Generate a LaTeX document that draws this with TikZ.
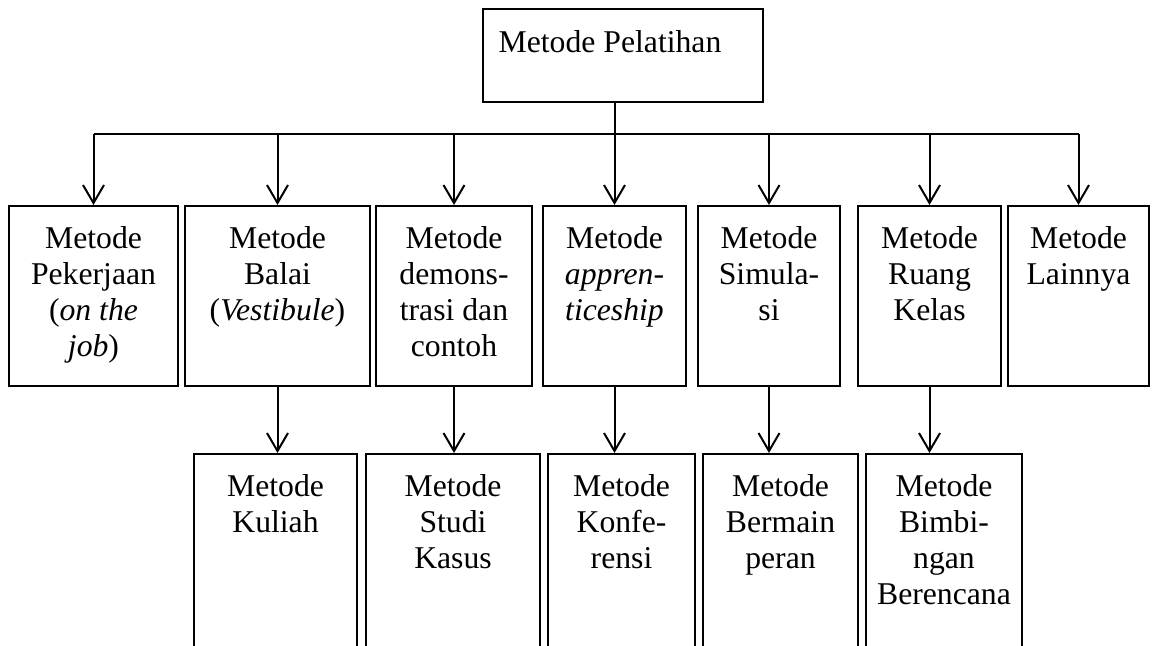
\documentclass[tikz,border=0pt]{standalone}
\usepackage{fontspec}
\setmainfont{Liberation Serif}
\usetikzlibrary{arrows.meta,fit}
\tikzset{
  box/.style={draw, line width=1pt, inner sep=0pt, fit={#1}},
  txt/.style={anchor=north, align=center, inner sep=0pt, font=\fontsize{15.85}{18}\selectfont},
  link/.style={line width=1pt},
  arr/.style={line width=1pt, -{Straight Barb[length=9pt,width=10.5pt,line width=1pt]}}
}
\begin{document}
\begin{tikzpicture}[x=0.5pt,y=-0.5pt]
\useasboundingbox (0,0) rectangle (1152,646);
\clip (0,0) rectangle (1152,646);
% top
\node[box={(483,9)(763,102)}] (top) {};
\node[txt] (ttop) at ([xshift=-6.5pt,yshift=-11pt]top.north) {Metode Pelatihan};
% upper row
\node[box={(9,206)(178,386)}] (b1) {};
\node[box={(185,206)(370,386)}] (b2) {};
\node[box={(376,206)(532,386)}] (b3) {};
\node[box={(543,206)(686,386)}] (b4) {};
\node[box={(698,206)(840,386)}] (b5) {};
\node[box={(858,206)(1001,386)}] (b6) {};
\node[box={(1008,206)(1149,386)}] (b7) {};
\node[txt] (t1) at ([yshift=-10.5pt]b1.north) {Metode\\Pekerjaan\\(\textit{on the}\\\textit{job})};
\node[txt] (t2) at ([yshift=-10.5pt]b2.north) {Metode\\Balai\\(\textit{Vestibule})};
\node[txt] (t3) at ([yshift=-10.5pt]b3.north) {Metode\\demons-\\trasi dan\\contoh};
\node[txt] (t4) at ([yshift=-10.5pt]b4.north) {Metode\\\textit{appren-}\\\textit{ticeship}};
\node[txt] (t5) at ([yshift=-10.5pt]b5.north) {Metode\\Simula-\\si};
\node[txt] (t6) at ([yshift=-10.5pt]b6.north) {Metode\\Ruang\\Kelas};
\node[txt] (t7) at ([yshift=-10.5pt]b7.north) {Metode\\Lainnya};
% lower row
\node[box={(194,454)(357,660)}] (c2) {};
\node[box={(366,454)(540,660)}] (c3) {};
\node[box={(548,454)(695,660)}] (c4) {};
\node[box={(703,454)(858,660)}] (c5) {};
\node[box={(866,454)(1022,660)}] (c6) {};
\node[txt] (u2) at ([yshift=-10.5pt]c2.north) {Metode\\Kuliah};
\node[txt] (u3) at ([yshift=-10.5pt]c3.north) {Metode\\Studi\\Kasus};
\node[txt] (u4) at ([yshift=-10.5pt]c4.north) {Metode\\Konfe-\\rensi};
\node[txt] (u5) at ([yshift=-10.5pt]c5.north) {Metode\\Bermain\\peran};
\node[txt] (u6) at ([yshift=-10.5pt]c6.north) {Metode\\Bimbi-\\ngan\\Berencana};
% connectors
\coordinate (h) at (0,134);
\draw[link] (b1.north |- h) -- (b7.north |- h);
\draw[arr] (top.south -| b4.north) -- (b4.north);
\foreach \b in {b1,b2,b3,b5,b6,b7}{
  \draw[arr] (\b.north |- h) -- (\b.north);
}
\draw[arr] (b2.south) -- (b2.south |- c2.north);
\draw[arr] (b3.south) -- (b3.south |- c3.north);
\draw[arr] (b4.south) -- (b4.south |- c4.north);
\draw[arr] (b5.south) -- (b5.south |- c5.north);
\draw[arr] (b6.south) -- (b6.south |- c6.north);
\end{tikzpicture}
\end{document}
